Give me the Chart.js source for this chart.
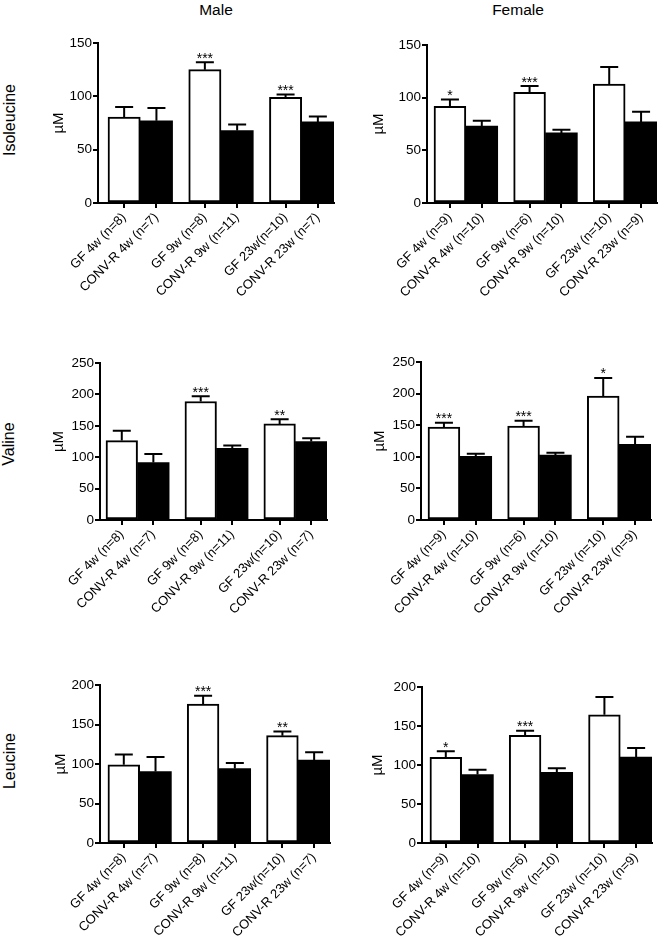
<!DOCTYPE html>
<html>
<head>
<meta charset="utf-8">
<script src="https://cdn.jsdelivr.net/npm/chart.js@4.4.1/dist/chart.umd.min.js"></script>
<style>
  body { margin: 0; background: #fff; }
  #fig { position: relative; width: 670px; height: 940px; font-family: 'Liberation Sans', Arial, sans-serif; color: #000; }
  canvas { position: absolute; }
  .title { position: absolute; font-size: 15.5px; transform: translate(-50%, -50%); white-space: nowrap; }
  .row { position: absolute; font-size: 16px; transform: translate(-50%, -50%) rotate(-90deg); white-space: nowrap; }
</style>
</head>
<body>
<div id="fig"></div>
<script>
const maleLabels = ['GF 4w (n=8)', 'CONV-R 4w (n=7)', 'GF 9w (n=8)', 'CONV-R 9w (n=11)', 'GF 23w(n=10)', 'CONV-R 23w (n=7)'];
const femaleLabels = ['GF 4w (n=9)', 'CONV-R 4w (n=10)', 'GF 9w (n=6)', 'CONV-R 9w (n=10)', 'GF 23w (n=10)', 'CONV-R 23w (n=9)'];

const isoMale = [80.5, 77, 125, 68, 99, 76];
const isoMaleSem = [9.5, 12, 7, 5.5, 2.8, 5];
const isoMaleStars = ['', '', '***', '', '***', ''];
const isoFemale = [91.7, 73, 105, 66.5, 113, 77];
const isoFemaleSem = [6.6, 5, 6, 3.1, 16, 9.6];
const isoFemaleStars = ['*', '', '***', '', '', ''];

const valMale = [126.5, 91.4, 188.7, 114, 153, 125];
const valMaleSem = [15.5, 13.6, 8.3, 4.5, 7.6, 5];
const valMaleStars = ['', '', '***', '', '**', ''];
const valFemale = [147, 100.6, 148.6, 102.7, 196, 119.6];
const valFemaleSem = [7, 4.4, 8.4, 3.8, 28.7, 12.2];
const valFemaleStars = ['***', '', '***', '', '*', ''];

const leuMale = [98.9, 90.4, 176, 94.2, 135.9, 105];
const leuMaleSem = [13.1, 18.6, 10.4, 7.2, 5.1, 10];
const leuMaleStars = ['', '', '***', '', '**', ''];
const leuFemale = [109.8, 87.7, 138, 90.7, 164.4, 110];
const leuFemaleSem = [7.7, 6.3, 6, 5.1, 22.9, 11.7];
const leuFemaleStars = ['*', '', '***', '', '', ''];

const yMax = [150, 250, 200];
const yTicks = [[0, 50, 100, 150], [0, 50, 100, 150, 200, 250], [0, 50, 100, 150, 200]];

// chart area frames in page pixels, plus x of the µM label and x-axis start
const frames = [
  { l: 98, t: 43, r: 334, b: 203, ux: 59, xMin: -0.81 },
  { l: 427, t: 45, r: 657, b: 203, ux: 379, xMin: -0.72 },
  { l: 100, t: 363, r: 327, b: 520, ux: 59, xMin: -0.69 },
  { l: 421, t: 362, r: 651, b: 520, ux: 380, xMin: -0.72 },
  { l: 100, t: 685, r: 330, b: 843, ux: 61, xMin: -0.75 },
  { l: 422, t: 687, r: 652, b: 843, ux: 378, xMin: -0.75 }
];

const panels = [
  [maleLabels, isoMale, isoMaleSem, isoMaleStars, 0],
  [femaleLabels, isoFemale, isoFemaleSem, isoFemaleStars, 0],
  [maleLabels, valMale, valMaleSem, valMaleStars, 1],
  [femaleLabels, valFemale, valFemaleSem, valFemaleStars, 1],
  [maleLabels, leuMale, leuMaleSem, leuMaleStars, 2],
  [femaleLabels, leuFemale, leuFemaleSem, leuFemaleStars, 2]
];

Chart.defaults.font.family = "'Liberation Sans', Arial, sans-serif";
Chart.defaults.color = '#000';

const fig = document.getElementById('fig');

function addText(cls, text, x, y) {
  const d = document.createElement('div');
  d.className = cls;
  d.textContent = text;
  d.style.left = x + 'px';
  d.style.top = y + 'px';
  fig.appendChild(d);
}

addText('title', 'Male', 216, 10);
addText('title', 'Female', 518, 10);
addText('row', 'Isoleucine', 10, 120);
addText('row', 'Valine', 9, 444);
addText('row', 'Leucine', 10, 761);

// pairs of bars side by side, half a bar of space between the pairs
const barPos = i => Math.floor(i / 2) * 2.5 + (i % 2);

const errorBars = {
  id: 'errorBars',
  afterDatasetsDraw(chart) {
    const { ctx, scales: { y } } = chart;
    const ds = chart.data.datasets[0];
    const meta = chart.getDatasetMeta(0);
    ctx.save();
    ctx.strokeStyle = '#000';
    ctx.fillStyle = '#000';
    ctx.lineWidth = 2;
    ctx.font = "14px 'Liberation Sans', Arial, sans-serif";
    ctx.textAlign = 'center';
    ctx.textBaseline = 'alphabetic';
    meta.data.forEach((bar, i) => {
      const v = ds.data[i].y;
      const base = y.getPixelForValue(v);
      const top = y.getPixelForValue(v + ds.sem[i]);
      ctx.beginPath();
      ctx.moveTo(bar.x, base);
      ctx.lineTo(bar.x, top);
      ctx.moveTo(bar.x - 9, top);
      ctx.lineTo(bar.x + 9, top);
      ctx.stroke();
      if (ds.stars[i]) ctx.fillText(ds.stars[i], bar.x, top + 0.5);
    });
    ctx.restore();
  }
};

panels.forEach(([labels, values, sem, stars, row], k) => {
  const f = frames[k];
  const left = f.l - 70, top = f.t - 15;
  const w = f.r + 8 - left, h = f.b + 95 - top;
  const canvas = document.createElement('canvas');
  canvas.width = w;
  canvas.height = h;
  canvas.style.left = left + 'px';
  canvas.style.top = top + 'px';
  canvas.style.width = w + 'px';
  canvas.style.height = h + 'px';
  fig.appendChild(canvas);

  new Chart(canvas, {
    type: 'bar',
    data: {
      datasets: [{
        data: values.map((v, i) => ({ x: barPos(i), y: v })),
        sem: sem,
        stars: stars,
        backgroundColor: values.map((v, i) => i % 2 ? '#000' : '#fff'),
        borderColor: '#000',
        borderWidth: values.map((v, i) => i % 2 ? 0 : 2),
        borderSkipped: false,
        barPercentage: 1,
        categoryPercentage: 1
      }]
    },
    options: {
      responsive: false,
      animation: false,
      layout: { padding: { top: 15, right: 8, bottom: 0, left: 0 } },
      plugins: { legend: { display: false }, tooltip: { enabled: false } },
      scales: {
        x: {
          type: 'linear',
          min: f.xMin,
          max: 6.5,
          offset: false,
          afterBuildTicks: s => { s.ticks = labels.map((l, i) => ({ value: barPos(i) })); },
          afterFit: s => { s.height = 95; },
          grid: { offset: false, drawOnChartArea: false, drawTicks: true, tickLength: 5, color: '#000', lineWidth: 2 },
          border: { display: true, color: '#000', width: 2 },
          ticks: {
            autoSkip: false,
            minRotation: 45,
            maxRotation: 45,
            padding: 2,
            font: { size: 13 },
            callback: (v, i) => labels[i]
          }
        },
        y: {
          min: 0,
          max: yMax[row],
          afterBuildTicks: s => { s.ticks = yTicks[row].map(v => ({ value: v })); },
          afterFit: s => { s.width = 70; },
          grid: { drawOnChartArea: false, drawTicks: true, tickLength: 5, color: '#000', lineWidth: 2 },
          border: { display: true, color: '#000', width: 2 },
          ticks: { padding: 1, font: { size: 13.5 } },
          title: {
            display: true,
            text: 'µM',
            font: { size: 15 },
            padding: { top: f.ux - left - 9, bottom: 0 }
          }
        }
      }
    },
    plugins: [errorBars]
  });
});
</script>
</body>
</html>
